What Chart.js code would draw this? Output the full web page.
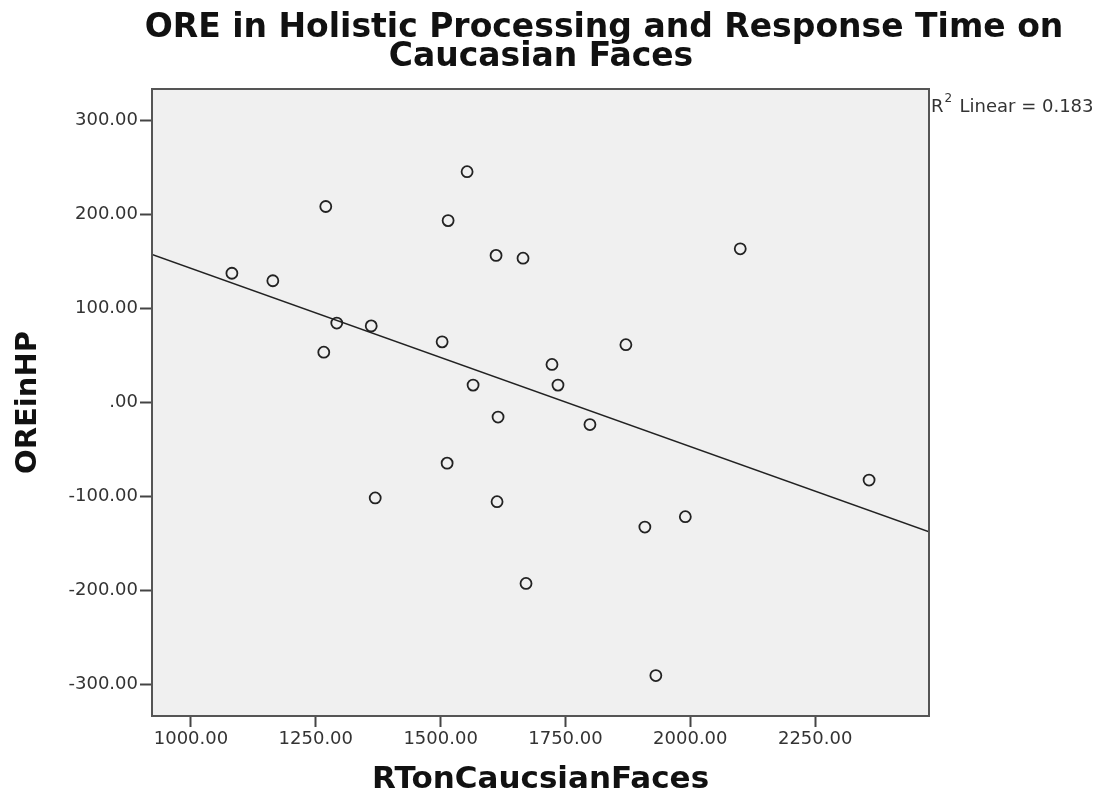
<!DOCTYPE html>
<html>
<head>
<meta charset="utf-8">
<script src="https://cdn.jsdelivr.net/npm/chart.js@4"></script>
<style>
  body { margin: 0; background: #ffffff; }
  #wrap { width: 1106px; height: 795px; }
</style>
</head>
<body>
<div id="wrap"><canvas id="scatterChart" width="1106" height="795"></canvas></div>
<script>
// Dados
const rtValues = [1082, 1164, 1270, 1292, 1266, 1361, 1369, 1553, 1515, 1503, 1565, 1513, 1611,
                  1665, 1615, 1613, 1671, 1723, 1735, 1799, 1871, 1909, 1990, 1931, 2100, 2358];
const oreValues = [137, 129, 208, 84, 53, 81, -102, 245, 193, 64, 18, -65, 156,
                   153, -16, -106, -193, 40, 18, -24, 61, -133, -122, -291, 163, -83];

// Linha de ajuste (extremos)
const fitX = [922, 2478];
const fitY = [157, -138];

const xTicks = [1000, 1250, 1500, 1750, 2000, 2250];
const yTicks = [-300, -200, -100, 0, 100, 200, 300];

const titleLines = ['ORE in Holistic Processing and Response Time on', 'Caucasian Faces'];
const xTitle = 'RTonCaucsianFaces';
const yTitle = 'OREinHP';
const r2Text = '0.183';

function formatTick(v) {
    if (v === 0) return '.00';
    return v.toFixed(2);
}

// Fundo e moldura da área do gráfico + textos extras
const plotFrame = {
    id: 'plotFrame',
    beforeDatasetsDraw(chart) {
        const { ctx, chartArea: a } = chart;
        ctx.save();
        ctx.fillStyle = '#f0f0f0';
        ctx.fillRect(a.left, a.top, a.right - a.left, a.bottom - a.top);
        ctx.restore();
    },
    afterDraw(chart) {
        const { ctx, chartArea: a } = chart;
        ctx.save();
        ctx.strokeStyle = '#555555';
        ctx.lineWidth = 2;
        ctx.strokeRect(a.left, a.top, a.right - a.left, a.bottom - a.top);

        // título
        ctx.fillStyle = '#111111';
        ctx.textAlign = 'center';
        ctx.textBaseline = 'alphabetic';
        ctx.font = 'bold 33px "DejaVu Sans"';
        ctx.fillText(titleLines[0], 604, 37);
        ctx.fillText(titleLines[1], 541, 66);

        // R2
        ctx.textAlign = 'left';
        ctx.fillStyle = '#333333';
        ctx.font = '18px "DejaVu Sans"';
        ctx.fillText('R', a.right + 2, 112);
        const rw = ctx.measureText('R').width;
        ctx.font = '12px "DejaVu Sans"';
        ctx.fillText('2', a.right + 3 + rw, 102);
        ctx.font = '18px "DejaVu Sans"';
        ctx.fillText('Linear = ' + r2Text, a.right + rw + 18, 112);
        ctx.restore();
    }
};

const ctx = document.getElementById('scatterChart').getContext('2d');

new Chart(ctx, {
    type: 'scatter',
    data: {
        datasets: [
            {
                data: rtValues.map((x, i) => ({ x: x, y: oreValues[i] })),
                pointStyle: 'circle',
                pointRadius: 5.5,
                pointBorderWidth: 1.8,
                pointBorderColor: '#222222',
                pointBackgroundColor: 'rgba(0,0,0,0)',
                order: 1
            },
            {
                type: 'line',
                data: fitX.map((x, i) => ({ x: x, y: fitY[i] })),
                showLine: true,
                borderColor: '#222222',
                borderWidth: 1.5,
                pointRadius: 0,
                fill: false,
                order: 2
            }
        ]
    },
    options: {
        responsive: false,
        animation: false,
        events: [],
        layout: { padding: { top: 89, right: 177, left: 0, bottom: 0 } },
        plugins: {
            legend: { display: false },
            tooltip: { enabled: false },
            title: { display: false }
        },
        scales: {
            x: {
                type: 'linear',
                min: 922,
                max: 2478,
                afterBuildTicks: scale => { scale.ticks = xTicks.map(v => ({ value: v })); },
                afterFit: scale => { scale.height = 79; },
                border: { display: false },
                grid: {
                    display: true,
                    drawOnChartArea: false,
                    drawTicks: true,
                    tickLength: 11,
                    tickWidth: 2,
                    tickColor: '#444444'
                },
                ticks: {
                    padding: 2,
                    color: '#333333',
                    font: { family: 'DejaVu Sans', size: 18 },
                    maxRotation: 0,
                    callback: v => formatTick(v)
                },
                title: {
                    display: true,
                    text: xTitle,
                    color: '#111111',
                    font: { family: 'DejaVu Sans', size: 31, weight: 'bold', lineHeight: 1 },
                    padding: { top: 0, bottom: 0 }
                }
            },
            y: {
                type: 'linear',
                min: -334,
                max: 333,
                afterBuildTicks: scale => { scale.ticks = yTicks.map(v => ({ value: v })); },
                afterFit: scale => { scale.width = 152; },
                border: { display: false },
                grid: {
                    display: true,
                    drawOnChartArea: false,
                    drawTicks: true,
                    tickLength: 12,
                    tickWidth: 2,
                    tickColor: '#444444'
                },
                ticks: {
                    padding: 2,
                    color: '#333333',
                    font: { family: 'DejaVu Sans', size: 18 },
                    callback: v => formatTick(v)
                },
                title: {
                    display: true,
                    text: yTitle,
                    color: '#111111',
                    font: { family: 'DejaVu Sans', size: 29, weight: 'bold', lineHeight: 1 },
                    padding: { top: 14, bottom: 0 }
                }
            }
        }
    },
    plugins: [plotFrame]
});
</script>
</body>
</html>
